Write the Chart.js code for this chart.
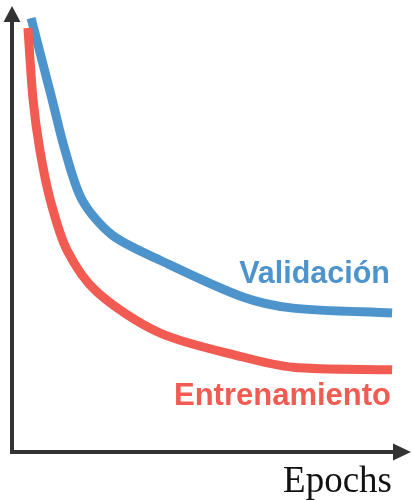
<!DOCTYPE html>
<html>
<head>
<meta charset="utf-8">
<script src="https://cdn.jsdelivr.net/npm/chart.js@4/dist/chart.umd.min.js"></script>
<style>
  html, body { margin: 0; padding: 0; background: #ffffff; }
  #wrap { width: 412px; height: 500px; position: relative; }
</style>
</head>
<body>
<div id="wrap"><canvas id="c" width="412" height="500"></canvas></div>
<script>
// Series names
const seriesNames = ['Entrenamiento', 'Validación'];
const xAxisLabel = 'Epochs';

// Validation curve (epochs 0..100, loss 0..1)
const valEpochs = [4.8, 10.1, 13.3, 17.6, 25.1, 37.2, 58.0, 70.6, 95.5];
const valLoss   = [0.977, 0.793, 0.680, 0.568, 0.489, 0.432, 0.349, 0.324, 0.313];

// Training curve
const trainEpochs = [4.0, 5.3, 7.0, 9.6, 13.8, 21.4, 37.2, 58.0, 70.6, 95.5];
const trainLoss   = [0.955, 0.793, 0.680, 0.568, 0.455, 0.360, 0.268, 0.214, 0.191, 0.185];

const BLUE = '#4d93cc';
const RED = '#f25b51';
const AXIS = '#333333';

const toPts = (xs, ys) => xs.map((x, i) => ({ x: x, y: ys[i] }));

const decorPlugin = {
  id: 'decor',
  afterDraw(chart) {
    const ctx = chart.ctx;
    const xs = chart.scales.x, ys = chart.scales.y;
    const x0 = xs.getPixelForValue(0);
    const y0 = ys.getPixelForValue(0);
    const xEnd = xs.getPixelForValue(100);
    const yTop = ys.getPixelForValue(1);
    ctx.save();
    ctx.strokeStyle = AXIS;
    ctx.fillStyle = AXIS;
    ctx.lineWidth = 4;
    ctx.lineCap = 'butt';
    // y axis
    ctx.beginPath();
    ctx.moveTo(x0, y0 + 2);
    ctx.lineTo(x0, yTop + 10);
    ctx.stroke();
    // x axis
    ctx.beginPath();
    ctx.moveTo(x0 - 2, y0);
    ctx.lineTo(xEnd - 12, y0);
    ctx.stroke();
    // y arrow
    ctx.beginPath();
    ctx.moveTo(x0, yTop - 2);
    ctx.lineTo(x0 - 8.5, yTop + 14);
    ctx.lineTo(x0 + 8.5, yTop + 14);
    ctx.closePath();
    ctx.fill();
    // x arrow
    ctx.beginPath();
    ctx.moveTo(xEnd + 1, y0);
    ctx.lineTo(xEnd - 17, y0 - 8.5);
    ctx.lineTo(xEnd - 17, y0 + 8.5);
    ctx.closePath();
    ctx.fill();

    // series labels
    ctx.textAlign = 'right';
    ctx.textBaseline = 'alphabetic';
    ctx.font = 'bold 30.5px "Liberation Sans", Arial, sans-serif';
    ctx.fillStyle = BLUE;
    ctx.fillText(seriesNames[1], 390, 283);
    ctx.font = 'bold 31px "Liberation Sans", Arial, sans-serif';
    ctx.fillStyle = RED;
    ctx.fillText(seriesNames[0], 391, 405);

    // x axis label
    ctx.font = '37px "Liberation Serif", "DejaVu Serif", serif';
    ctx.fillStyle = '#111111';
    ctx.fillText(xAxisLabel, 392, 492);
    ctx.restore();
  }
};

new Chart(document.getElementById('c'), {
  type: 'line',
  data: {
    datasets: [
      {
        label: seriesNames[0],
        data: toPts(trainEpochs, trainLoss),
        borderColor: RED,
        borderWidth: 9,
        pointRadius: 0,
        tension: 0.3,
        borderCapStyle: 'butt',
        fill: false,
        clip: false
      },
      {
        label: seriesNames[1],
        data: toPts(valEpochs, valLoss),
        borderColor: BLUE,
        borderWidth: 9,
        pointRadius: 0,
        tension: 0.3,
        borderCapStyle: 'butt',
        fill: false,
        clip: false
      }
    ]
  },
  options: {
    responsive: false,
    animation: false,
    devicePixelRatio: 1,
    layout: { padding: { left: 12, right: 2, top: 8, bottom: 48 } },
    plugins: { legend: { display: false }, tooltip: { enabled: false } },
    scales: {
      x: { type: 'linear', min: 0, max: 100, display: false },
      y: { type: 'linear', min: 0, max: 1, display: false }
    }
  },
  plugins: [decorPlugin]
});
</script>
</body>
</html>
